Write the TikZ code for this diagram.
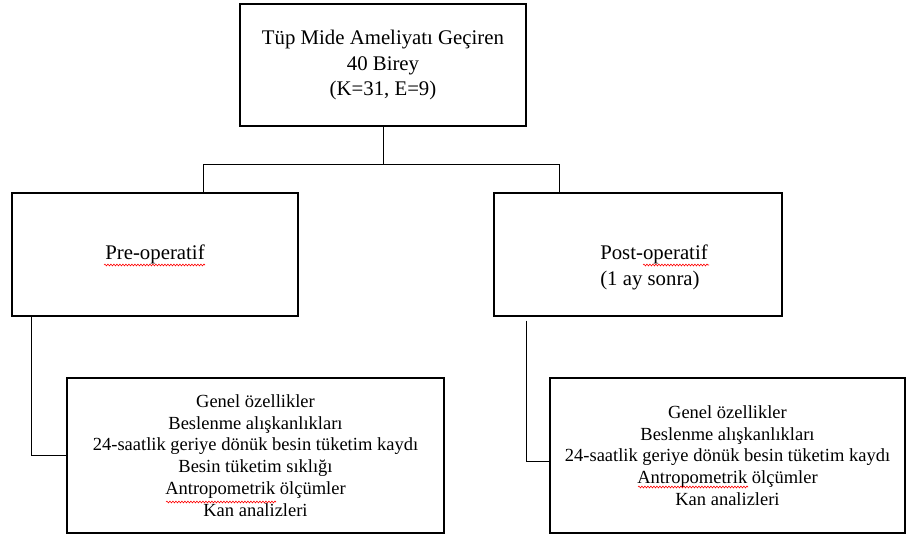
\documentclass[tikz,border=0pt]{standalone}
\usepackage{fontspec}
\setmainfont{Liberation Serif}
\usetikzlibrary{decorations.pathmorphing}
\newcommand{\bigtext}{\fontsize{20.8}{25.5}\selectfont}
\newcommand{\smalltext}{\fontsize{18.5}{21.7}\selectfont}

\begin{document}
\begin{tikzpicture}[
    x=1pt, y=-1pt,
    box/.style={draw, line width=1.2pt, align=center, inner sep=0pt},
    link/.style={line width=1pt},
    spellcheck/.style={draw=red, line width=0.6pt, decorate, decoration={snake, amplitude=0.9pt, segment length=3pt}}
  ]
    \useasboundingbox (0,0) rectangle (906,538);
    \node[box, minimum width=286pt, minimum height=122pt, font=\bigtext] (cohort) at (383,65) {Tüp Mide Ameliyatı Geçiren\\40 Birey\\(K=31, E=9)};
    \node[box, minimum width=286pt, minimum height=123pt, font=\bigtext] (pre) at (155,254.5) {Pre-operatif};
    \node[box, minimum width=288pt, minimum height=123pt,
      label={[font=\bigtext, align=left, xshift=16pt, yshift=-13pt]center:Post-operatif\\(1 ay sonra)}] (post) at (638,254.5) {};
    \node[box, minimum width=377pt, minimum height=155pt, font=\smalltext] (preitems) at (255.5,455.5) {Genel özellikler\\Beslenme alışkanlıkları\\24-saatlik geriye dönük besin tüketim kaydı\\Besin tüketim sıklığı\\Antropometrik ölçümler\\Kan analizleri};
    \node[box, minimum width=355pt, minimum height=155pt, font=\smalltext] (postitems) at (727.5,455.5) {Genel özellikler\\Beslenme alışkanlıkları\\24-saatlik geriye dönük besin tüketim kaydı\\Antropometrik ölçümler\\Kan analizleri};
    \draw[link] (cohort.south) -- ++(0,38) coordinate (split);
    \draw[link] ([xshift=48pt]pre.north) |- (split) -| ([xshift=-79pt]post.north);
    \draw[link] ([xshift=20pt]pre.south west) |- (preitems.west);
    \draw[link] ([xshift=33pt, yshift=-4pt]post.south west) |- ([yshift=-6pt]postitems.west);
    \draw[spellcheck] (104,265) -- (205,265);
    \draw[spellcheck] (643,265) -- (709,265);
    \draw[spellcheck] (166,502) -- (276,502);
    \draw[spellcheck] (638,487) -- (748,487);
  \end{tikzpicture}
\end{document}
